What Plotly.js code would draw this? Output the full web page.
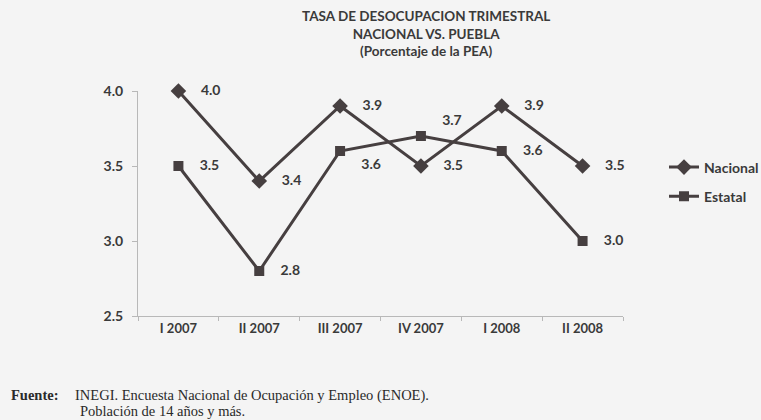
<!DOCTYPE html>
<html>
<head>
<meta charset="utf-8">
<script src="https://cdn.plot.ly/plotly-3.0.1.min.js"></script>
<style>
  html, body { margin: 0; padding: 0; background: #f4f4f4; }
  #chart { width: 761px; height: 420px; }
</style>
</head>
<body>
<div id="chart"></div>
<script>
const categories = ["I 2007", "II 2007", "III 2007", "IV 2007", "I 2008", "II 2008"];
const nacional = [4.0, 3.4, 3.9, 3.5, 3.9, 3.5];
const estatal = [3.5, 2.8, 3.6, 3.7, 3.6, 3.0];
const nacionalLabelPos = ["middle right", "middle right", "middle right", "middle right", "middle right", "middle right"];
const estatalLabelPos = ["middle right", "middle right", "bottom right", "top right", "middle right", "middle right"];
const yTicks = [2.5, 3.0, 3.5, 4.0];

const lineColor = "#463f40";
const textColor = "#3a3a3a";
const fam = "Lato, 'Open Sans', sans-serif";
const labelFont = { family: fam, size: 14, color: textColor, weight: "bold" };

const pad = s => "\u2002\u2002" + s;

const traces = [
  {
    x: categories, y: nacional, name: "Nacional", type: "scatter", mode: "lines+markers+text",
    legendgroup: "n",
    line: { color: lineColor, width: 3 },
    marker: { symbol: "diamond", size: 12, color: lineColor },
    text: nacional.map(v => pad(v.toFixed(1))),
    textposition: nacionalLabelPos,
    textfont: labelFont,
    cliponaxis: false
  },
  {
    x: categories, y: estatal, name: "Estatal", type: "scatter", mode: "lines+markers+text",
    legendgroup: "e",
    line: { color: lineColor, width: 3 },
    marker: { symbol: "square", size: 10, color: lineColor },
    text: estatal.map(v => pad(v.toFixed(1))),
    textposition: estatalLabelPos,
    textfont: labelFont,
    cliponaxis: false
  }
];

const serif = "'Liberation Serif', 'DejaVu Serif', serif";
const footFont = { family: serif, size: 14.5, color: "#2a2a2a" };
// paper coords: plot spans x 138..623 (485px), y 91..316 (225px)
const px = x => (x - 138) / 485;
const py = y => (316 - y) / 225;

const layout = {
  width: 761, height: 420,
  paper_bgcolor: "#f4f4f4", plot_bgcolor: "rgba(0,0,0,0)",
  margin: { l: 138, r: 138, t: 91, b: 104, autoexpand: false },
  font: { family: fam, color: textColor },
  showlegend: true,
  legend: {
    x: px(664), xanchor: "left", y: py(182), yanchor: "middle",
    bgcolor: "rgba(0,0,0,0)",
    font: { size: 14, color: textColor, family: fam, weight: "bold" },
    traceorder: "grouped", tracegroupgap: 8, itemwidth: 30
  },
  xaxis: {
    type: "category", showgrid: false, zeroline: false, automargin: false,
    showline: true, linecolor: "#b8b8b8", linewidth: 1,
    ticks: "outside", tickson: "boundaries", ticklen: 4, tickcolor: "#b8b8b8",
    tickfont: { size: 13, color: textColor, weight: "bold" },
    range: [-0.5, 5.5]
  },
  yaxis: {
    range: [2.5, 4.0], tickvals: yTicks, ticktext: yTicks.map(v => v.toFixed(1)),
    showgrid: false, zeroline: false, automargin: false,
    showline: true, linecolor: "#b8b8b8", linewidth: 1,
    ticks: "outside", ticklen: 5, tickcolor: "#b8b8b8", ticklabelstandoff: 6,
    tickfont: { size: 14, color: textColor, weight: "bold" }
  },
  annotations: [
    {
      xref: "paper", yref: "paper", x: px(426), y: py(6), xanchor: "center", yanchor: "top",
      align: "center", showarrow: false,
      text: "<b>TASA DE DESOCUPACION TRIMESTRAL</b><br><b>NACIONAL VS. PUEBLA</b><br><b>(Porcentaje de la PEA)</b>",
      font: { size: 13.5, color: textColor, family: fam }
    },
    {
      xref: "paper", yref: "paper", x: px(9), y: py(395), xanchor: "left", yanchor: "middle",
      showarrow: false, text: "<b>Fuente:</b>", font: footFont
    },
    {
      xref: "paper", yref: "paper", x: px(73), y: py(395), xanchor: "left", yanchor: "middle",
      showarrow: false, text: "INEGI. Encuesta Nacional de Ocupación y Empleo (ENOE).", font: footFont
    },
    {
      xref: "paper", yref: "paper", x: px(78), y: py(411), xanchor: "left", yanchor: "middle",
      showarrow: false, text: "Población de 14 años y más.", font: footFont
    }
  ]
};

Plotly.newPlot("chart", traces, layout, { displayModeBar: false, staticPlot: true });
</script>
</body>
</html>
